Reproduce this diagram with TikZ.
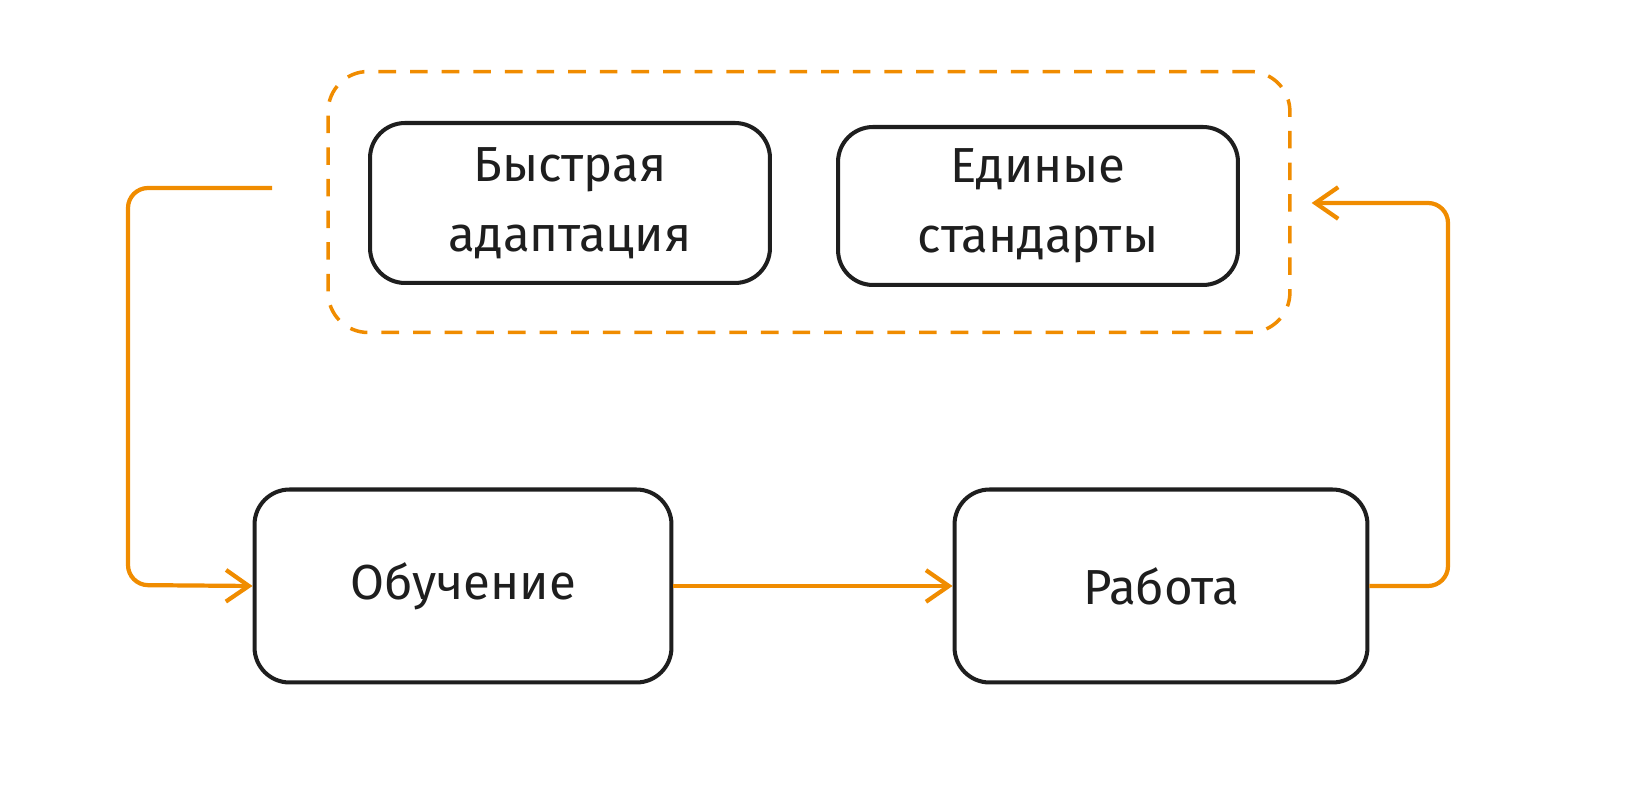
\documentclass[tikz,border=0pt]{standalone}
\usepackage{fontspec}
\setmainfont{Fira Sans}
\usepackage{tikz}
\usetikzlibrary{positioning,arrows.meta}
\definecolor{sketchorange}{HTML}{F08C00}
\definecolor{sketchblack}{HTML}{1E1E1E}

\begin{document}
\begin{tikzpicture}[x=0.02cm,y=-0.02cm,
  card/.style={shape=rectangle,draw=sketchblack,line width=2.3pt,rounded corners=0.7cm,align=center,text=sketchblack,font=\fontsize{28}{40}\selectfont},
  group/.style={shape=rectangle,draw=sketchorange,line width=2pt,dash pattern=on 10pt off 8pt,rounded corners=0.8cm},
  flow/.style={draw=sketchorange,line width=2.4pt,rounded corners=0.4cm,-{Straight Barb[length=13pt,width=18pt]}}]
\useasboundingbox (0,0) rectangle (1651,786);
\node[group,minimum width=19.24cm,minimum height=5.22cm] (G) at (809,202) {};
\node[card,minimum width=8cm,minimum height=3.2cm] (fast) at (570,203) {Быстрая\\адаптация};
\node[card,minimum width=8cm,minimum height=3.16cm] (std) at (1038,206) {Единые\\стандарты};
\node[card,minimum width=8.34cm,minimum height=3.86cm] (learn) at (463,586) {Обучение};
\node[card,minimum width=8.26cm,minimum height=3.86cm] (work) at (1161,586) {Работа};
\coordinate (start) at (272,188);
\draw[flow] (start) -- (128,188) -- (128,585) -- (learn.west);
\draw[flow] (learn.east) -- (work.west);
\draw[flow] (work.east) -- (1448,586) -- (1448,203) -- ([xshift=0.4cm]G.east |- 0,203);
\end{tikzpicture}
\end{document}
